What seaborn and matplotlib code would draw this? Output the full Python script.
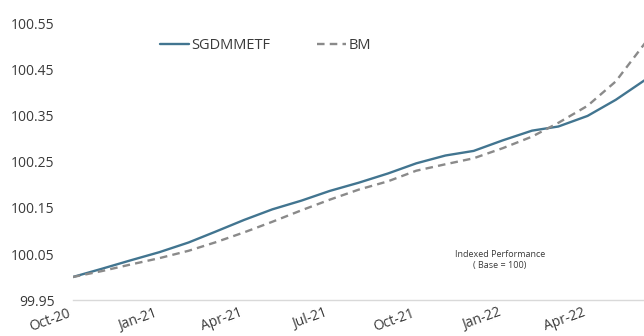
import matplotlib
matplotlib.use("Agg")
import matplotlib.pyplot as plt
import matplotlib.dates as mdates
import numpy as np
import pandas as pd
import seaborn as sns

# Monthly indexed performance (base = 100)
months = pd.date_range("2020-10-01", "2022-06-01", freq="MS")
sgdmmetf = [100.000, 100.018, 100.036, 100.054, 100.075, 100.098, 100.124,
            100.147, 100.166, 100.187, 100.205, 100.225, 100.247, 100.264,
            100.274, 100.297, 100.318, 100.327, 100.350, 100.385, 100.428]
bm = [100.000, 100.013, 100.027, 100.041, 100.057, 100.075, 100.097,
      100.120, 100.145, 100.168, 100.190, 100.208, 100.231, 100.245,
      100.258, 100.280, 100.305, 100.335, 100.372, 100.425, 100.508]
y_ticks = [99.95, 100.05, 100.15, 100.25, 100.35, 100.45, 100.55]
x_ticks = pd.date_range("2020-10-01", "2022-04-01", freq="3MS")

df = pd.DataFrame({"Date": months, "SGDMMETF": sgdmmetf, "BM": bm})

sns.set_theme(style="white")
plt.rcParams["font.family"] = ["Open Sans", "DejaVu Sans"]

text_col = "#3a3a3a"
fig = plt.figure(figsize=(6.44, 3.36), dpi=100)
ax = fig.add_axes([0.113, 0.107, 0.887, 0.822])

sns.lineplot(data=df, x="Date", y="SGDMMETF", ax=ax, color="#427590",
             linewidth=1.7, label="SGDMMETF")
sns.lineplot(data=df, x="Date", y="BM", ax=ax, color="#8a8a8a",
             linewidth=1.7, linestyle="--", label="BM")
ax.lines[1].set_dashes((3.2, 2.2))

ax.set_xlim(months[0], months[-1] + pd.Timedelta(days=-1))
ax.set_ylim(99.95, 100.55)
ax.set_yticks(y_ticks)
ax.set_yticklabels([f"{v:.2f}" for v in y_ticks], fontsize=10, color=text_col)
ax.set_xticks(x_ticks)
ax.xaxis.set_major_formatter(mdates.DateFormatter("%b-%y"))
for lbl in ax.get_xticklabels():
    lbl.set_rotation(20)
    lbl.set_ha("right")
    lbl.set_fontsize(10)
    lbl.set_color(text_col)

ax.set_xlabel("")
ax.set_ylabel("")
for side in ["top", "right", "left"]:
    ax.spines[side].set_visible(False)
ax.spines["bottom"].set_color("#d9d9d9")
ax.spines["bottom"].set_linewidth(1)
ax.tick_params(axis="x", length=3, color="#d9d9d9", direction="out", pad=1)
ax.tick_params(axis="y", length=0, pad=13)
ax.grid(False)

leg = ax.legend(loc="upper left", bbox_to_anchor=(0.13, 0.995), ncol=2,
                frameon=False, fontsize=10.5, handlelength=2.0,
                handletextpad=0.15, columnspacing=3.2)
for t in leg.get_texts():
    t.set_color(text_col)

ax.text(0.748, 0.145, "Indexed Performance\n( Base = 100)", transform=ax.transAxes,
        ha="center", va="center", fontsize=6.5, color=text_col, linespacing=1.4)

fig.savefig("out.png", dpi=100)
